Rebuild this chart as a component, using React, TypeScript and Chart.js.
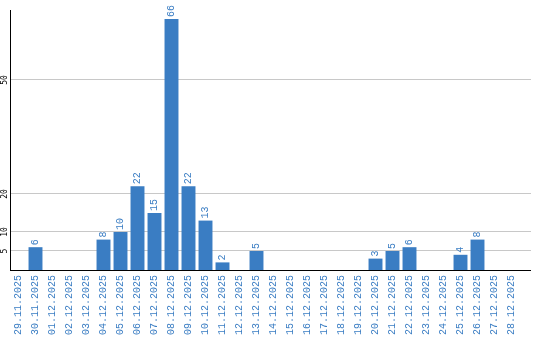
import React, { useEffect, useRef } from "react";
import { Chart, registerables } from "chart.js";

Chart.register(...registerables);

const categories = [
  "29.11.2025", "30.11.2025", "01.12.2025", "02.12.2025", "03.12.2025",
  "04.12.2025", "05.12.2025", "06.12.2025", "07.12.2025", "08.12.2025",
  "09.12.2025", "10.12.2025", "11.12.2025", "12.12.2025", "13.12.2025",
  "14.12.2025", "15.12.2025", "16.12.2025", "17.12.2025", "18.12.2025",
  "19.12.2025", "20.12.2025", "21.12.2025", "22.12.2025", "23.12.2025",
  "24.12.2025", "25.12.2025", "26.12.2025", "27.12.2025", "28.12.2025",
];
const values = [
  0, 6, 0, 0, 0,
  8, 10, 22, 15, 66,
  22, 13, 2, 0, 5,
  0, 0, 0, 0, 0,
  0, 3, 5, 6, 0,
  0, 4, 8, 0, 0,
];
const yTicks = [5, 10, 20, 50];
const yMax = 68.4;

const BLUE = "#3a7dc3";
const GRID = "#c8c8c8";
const FONT_FAMILY = "'Liberation Mono'";
const LABEL_FONT = `10px ${FONT_FAMILY}`;
const EXTRA_RIGHT = 11;

const align = (p: number) => Math.round(p - 0.5) + 0.5;

const overlayPlugin = {
  id: "overlay",
  afterDraw(chart: any) {
    const ctx = chart.ctx;
    const meta = chart.getDatasetMeta(0);
    const ds = chart.data.datasets[0].data as number[];
    const { right, bottom } = chart.chartArea;
    const y = chart.scales.y;
    ctx.save();
    // extend grid lines and x axis line past the last category
    ctx.lineWidth = 1;
    ctx.strokeStyle = GRID;
    yTicks.forEach((t) => {
      const py = align(y.getPixelForValue(t));
      ctx.beginPath();
      ctx.moveTo(right - 3, py);
      ctx.lineTo(right + EXTRA_RIGHT, py);
      ctx.stroke();
    });
    ctx.strokeStyle = "#000";
    const py0 = align(bottom);
    ctx.beginPath();
    ctx.moveTo(right - 3, py0);
    ctx.lineTo(right + EXTRA_RIGHT, py0);
    ctx.stroke();

    ctx.font = LABEL_FONT;
    ctx.fillStyle = BLUE;
    ctx.textAlign = "left";
    ctx.textBaseline = "middle";
    meta.data.forEach((bar: any, i: number) => {
      const v = ds[i];
      if (!v) return;
      ctx.save();
      ctx.translate(bar.x, bar.y - 2);
      ctx.rotate(-Math.PI / 2);
      ctx.fillText(String(v), 0, 0);
      ctx.restore();
    });
    ctx.font = "8px 'DejaVu Sans Mono'";
    ctx.fillStyle = "#000";
    ctx.textAlign = "center";
    ctx.textBaseline = "middle";
    yTicks.forEach((t) => {
      const py = y.getPixelForValue(t);
      ctx.save();
      ctx.translate(4.5, py);
      ctx.rotate(-Math.PI / 2);
      ctx.fillText(String(t), 0, 0);
      ctx.restore();
    });
    ctx.restore();
  },
};

export default function App() {
  const ref = useRef<HTMLCanvasElement | null>(null);
  useEffect(() => {
    if (!ref.current) return;
    const chart = new Chart(ref.current, {
      type: "bar",
      data: {
        labels: categories,
        datasets: [
          {
            data: values,
            backgroundColor: BLUE,
            borderWidth: 0,
            categoryPercentage: 0.82,
            barPercentage: 1,
          },
        ],
      },
      options: {
        animation: false,
        responsive: false,
        maintainAspectRatio: false,
        layout: { padding: { top: 10, right: 20, left: 0, bottom: 0 } },
        plugins: { legend: { display: false }, tooltip: { enabled: false } },
        scales: {
          x: {
            grid: { display: false, drawTicks: false },
            border: { color: "#000", width: 1 },
            ticks: {
              color: BLUE,
              font: { family: FONT_FAMILY, size: 10 },
              minRotation: 90,
              maxRotation: 90,
              autoSkip: false,
              padding: 5,
            },
            afterFit: (s: any) => {
              s.height = 70;
            },
          },
          y: {
            min: 0,
            max: yMax,
            grid: { color: GRID, drawTicks: false },
            border: { color: "#000", width: 1 },
            ticks: { display: false },
            afterBuildTicks: (s: any) => {
              s.ticks = yTicks.map((v) => ({ value: v }));
            },
            afterFit: (s: any) => {
              s.width = 10;
            },
          },
        },
      },
      plugins: [overlayPlugin],
    });
    return () => chart.destroy();
  }, []);
  return (
    <div style={{ position: "fixed", left: 0, top: 0, width: 540, height: 340, background: "#fff" }}>
      <canvas ref={ref} width={540} height={340} style={{ width: 540, height: 340 }} />
    </div>
  );
}
